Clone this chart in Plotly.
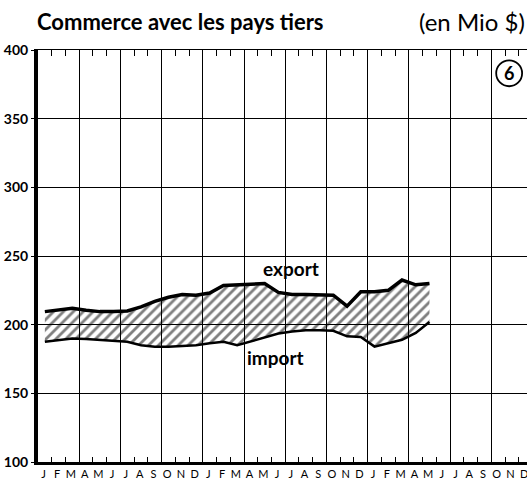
import plotly.graph_objects as go

# monthly values, Jan (year 1) .. May (year 3), in Mio $
months = list(range(29))
export = [209.5, 210.5, 212, 210.5, 209.5, 209.5, 210, 213, 217, 220, 222, 221.5,
          223, 228.5, 229, 229, 230, 223.5, 222, 222, 222, 221.5, 213.5, 224,
          224, 225, 232.5, 229, 230]
imports = [187.5, 189, 190, 189.5, 189, 188, 187.5, 185, 184, 184, 184.5, 185,
           186.5, 187.5, 185, 188, 191, 193.5, 195, 196, 196, 195.5, 191.5, 191,
           184, 186.5, 189, 194, 202]

month_letters = ['J', 'F', 'M', 'A', 'M', 'J', 'J', 'A', 'S', 'O', 'N', 'D'] * 3
y_ticks = [100, 150, 200, 250, 300, 350, 400]

x_pos = [m + 0.5 for m in months]
font = 'Lato'

fig = go.Figure()
fig.add_trace(go.Scatter(x=x_pos, y=imports, mode='lines',
                         line=dict(color='black', width=2.5),
                         showlegend=False, hoverinfo='skip'))
fig.add_trace(go.Scatter(x=x_pos, y=export, mode='lines',
                         line=dict(color='black', width=3.5),
                         fill='tonexty',
                         fillpattern=dict(shape='/', fgcolor='black', bgcolor='rgba(0,0,0,0)',
                                          size=7, solidity=0.4),
                         fillcolor='rgba(0,0,0,0)',
                         showlegend=False, hoverinfo='skip'))
# dummy trace so the top axis gets drawn
fig.add_trace(go.Scatter(x=[0], y=[100], xaxis='x2', mode='markers',
                         marker=dict(opacity=0), showlegend=False, hoverinfo='skip'))

fig.add_annotation(x=18.4, y=241, text='<b>export</b>', showarrow=False,
                   font=dict(family=font, size=19, color='black'))
fig.add_annotation(x=17.3, y=176, text='<b>import</b>', showarrow=False,
                   font=dict(family=font, size=19, color='black'))

# chart number in a circle, top right
fig.add_shape(type='circle', xref='paper', yref='paper',
              x0=0.937, x1=0.99, y0=0.912, y1=0.975,
              line=dict(color='black', width=1.8), fillcolor='white')
fig.add_annotation(xref='paper', yref='paper', x=0.9635, y=0.944, text='<b>6</b>',
                   xanchor='center', yanchor='middle',
                   showarrow=False, font=dict(family=font, size=18, color='black'))

fig.add_annotation(xref='paper', yref='paper', x=-0.006, y=1.07,
                   xanchor='left', yanchor='middle',
                   text='<b>Commerce avec les pays tiers</b>', showarrow=False,
                   font=dict(family=font, size=22, color='black'))
fig.add_annotation(xref='paper', yref='paper', x=1.0, y=1.07,
                   xanchor='right', yanchor='middle',
                   text='(en Mio $)', showarrow=False,
                   font=dict(family=font, size=24, color='black'))

fig.update_layout(
    width=527, height=484,
    margin=dict(l=38, r=0, t=50, b=22),
    plot_bgcolor='white', paper_bgcolor='white',
    xaxis=dict(range=[0, 35.6], tickmode='array',
               tickvals=[i + 0.4 for i in range(36)], ticktext=month_letters,
               ticks='', showgrid=False, zeroline=False, ticklabeloverflow='allow',
               showline=True, linecolor='black', linewidth=3,
               tickfont=dict(family=font, size=11, color='black'),
               minor=dict(tickmode='array', tickvals=list(range(1, 36)),
                          ticks='inside', ticklen=5, tickcolor='black', tickwidth=1)),
    xaxis2=dict(range=[0, 35.6], overlaying='x', side='top', tickmode='array',
                tickvals=list(range(3, 36, 3)), showticklabels=False,
                showgrid=True, gridcolor='black', gridwidth=1,
                ticks='inside', ticklen=6, tickcolor='black',
                showline=True, linecolor='black', linewidth=1, zeroline=False,
                minor=dict(tickmode='array', tickvals=list(range(1, 36)),
                           ticks='inside', ticklen=6, tickcolor='black', tickwidth=1)),
    yaxis=dict(range=[100, 400], tickmode='array', tickvals=y_ticks,
               showgrid=True, gridcolor='black', gridwidth=1, zeroline=False,
               showline=True, linecolor='black', linewidth=4,
               ticks='outside', ticklen=3, tickcolor='black',
               tickfont=dict(family=font, size=14, color='black', weight='bold')),
)

# drop the browser's default 8px body margin so the figure fills the window
fig.write_html('out.html', config={'displayModeBar': False},
               post_script="document.body.style.margin='0';document.body.style.overflow='hidden';")
